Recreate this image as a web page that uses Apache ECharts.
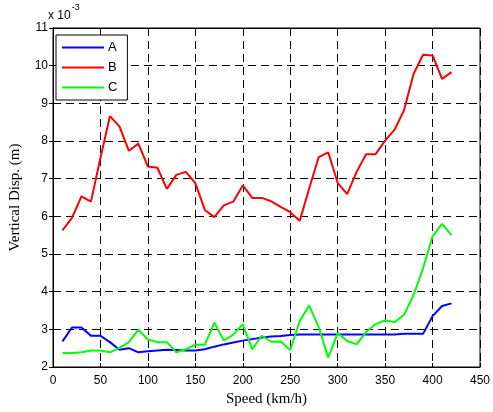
<!DOCTYPE html>
<html>
<head>
<meta charset="utf-8">
<script src="https://cdn.jsdelivr.net/npm/echarts@6/dist/echarts.min.js"></script>
<style>
  html, body { margin: 0; padding: 0; background: #fff; }
  #chart { width: 493px; height: 412px; }
</style>
</head>
<body>
<div id="chart"></div>
<script>
// speed in km/h
var speeds = [10, 20, 30, 40, 50, 60, 70, 80, 90, 100, 110, 120, 130, 140, 150, 160, 170, 180, 190, 200,
              210, 220, 230, 240, 250, 260, 270, 280, 290, 300, 310, 320, 330, 340, 350, 360, 370, 380, 390, 400, 410, 420];

// vertical displacement, x 10^-3 m
var dispA = [2.68, 3.05, 3.05, 2.83, 2.83, 2.66, 2.46, 2.50, 2.39, 2.42, 2.44, 2.46, 2.45, 2.44, 2.44, 2.47, 2.54, 2.60, 2.65, 2.70,
             2.74, 2.78, 2.81, 2.82, 2.85, 2.86, 2.86, 2.86, 2.86, 2.86, 2.86, 2.86, 2.86, 2.86, 2.86, 2.86, 2.88, 2.88, 2.88, 3.35, 3.62, 3.69];
var dispB = [5.63, 5.96, 6.53, 6.39, 7.55, 8.66, 8.39, 7.74, 7.93, 7.32, 7.29, 6.73, 7.10, 7.18, 6.88, 6.17, 5.98, 6.29, 6.39, 6.82,
             6.49, 6.49, 6.40, 6.25, 6.11, 5.88, 6.74, 7.57, 7.70, 6.89, 6.59, 7.18, 7.65, 7.65, 8.01, 8.30, 8.82, 9.78, 10.29, 10.27, 9.65, 9.83];
var dispC = [2.37, 2.37, 2.39, 2.44, 2.44, 2.39, 2.51, 2.66, 2.99, 2.73, 2.66, 2.66, 2.39, 2.47, 2.59, 2.59, 3.18, 2.70, 2.86, 3.14,
             2.47, 2.83, 2.67, 2.68, 2.45, 3.22, 3.63, 3.06, 2.25, 2.90, 2.69, 2.60, 2.93, 3.14, 3.24, 3.19, 3.39, 3.91, 4.62, 5.47, 5.80, 5.50];

var names = ['A', 'B', 'C'];
var colors = ['#0000ff', '#ff0000', '#00ff00'];

function pairs(ys) {
    return speeds.map(function (s, i) { return [s, ys[i]]; });
}

var myChart = echarts.init(document.getElementById('chart'));

var tickFont = { color: '#000', fontSize: 12, fontFamily: 'Liberation Sans, Arial, sans-serif' };
var dashed = { show: true, lineStyle: { color: '#000', type: [8, 5], width: 1 } };

var option = {
    animation: false,
    grid: { left: 49, right: 11, top: 28, bottom: 42, show: true, borderColor: '#000', borderWidth: 1 },
    legend: {
        orient: 'vertical',
        left: 56,
        top: 35,
        data: names,
        icon: 'path://M0,0H42V2H0Z',
        itemWidth: 42,
        itemHeight: 12,
        itemGap: 7,
        padding: [6, 10, 6, 6],
        borderColor: '#000',
        borderWidth: 1,
        backgroundColor: '#fff',
        textStyle: { color: '#000', fontSize: 13, fontFamily: 'Liberation Sans, Arial, sans-serif', padding: [0, 0, 0, -1] }
    },
    xAxis: [{
        type: 'value',
        min: 0, max: 450, interval: 50,
        name: 'Speed (km/h)',
        nameLocation: 'middle',
        nameGap: 25,
        nameTextStyle: { color: '#000', fontSize: 15, fontFamily: 'Liberation Serif, Times New Roman, serif' },
        axisLine: { lineStyle: { color: '#000' } },
        axisTick: { inside: true, length: 4, lineStyle: { color: '#000' } },
        axisLabel: Object.assign({ margin: 8 }, tickFont),
        splitLine: dashed
    }, {
        type: 'value',
        position: 'top',
        min: 0, max: 450, interval: 50,
        axisLine: { lineStyle: { color: '#000' } },
        axisTick: { inside: true, length: 4, lineStyle: { color: '#000' } },
        axisLabel: { show: false },
        splitLine: { show: false }
    }],
    yAxis: [{
        type: 'value',
        min: 2, max: 11, interval: 1,
        name: 'Vertical Disp. (m)',
        nameLocation: 'middle',
        nameGap: 30,
        nameTextStyle: { color: '#000', fontSize: 15, fontFamily: 'Liberation Serif, Times New Roman, serif' },
        axisLine: { lineStyle: { color: '#000' } },
        axisTick: { inside: true, length: 4, lineStyle: { color: '#000' } },
        axisLabel: Object.assign({ margin: 5 }, tickFont),
        splitLine: dashed
    }, {
        type: 'value',
        position: 'right',
        min: 2, max: 11, interval: 1,
        axisLine: { show: true, lineStyle: { color: '#000' } },
        axisTick: { inside: true, length: 4, lineStyle: { color: '#000' } },
        axisLabel: { show: false },
        splitLine: { show: false }
    }],
    graphic: [{
        type: 'text',
        left: 48,
        top: 3,
        style: {
            text: '{a|x 10}{b|-3}',
            rich: {
                a: { fontSize: 12, fontFamily: 'Liberation Sans, Arial, sans-serif', fill: '#000', padding: [10, 0, 0, 0] },
                b: { fontSize: 9, fontFamily: 'Liberation Sans, Arial, sans-serif', fill: '#000', padding: [0, 0, 6, 1] }
            }
        }
    }],
    series: [dispA, dispB, dispC].map(function (ys, i) {
        return {
            name: names[i],
            type: 'line',
            data: pairs(ys),
            symbol: 'none',
            z: 3,
            lineStyle: { color: colors[i], width: 2 },
            itemStyle: { color: colors[i] }
        };
    })
};

myChart.setOption(option);
</script>
</body>
</html>
